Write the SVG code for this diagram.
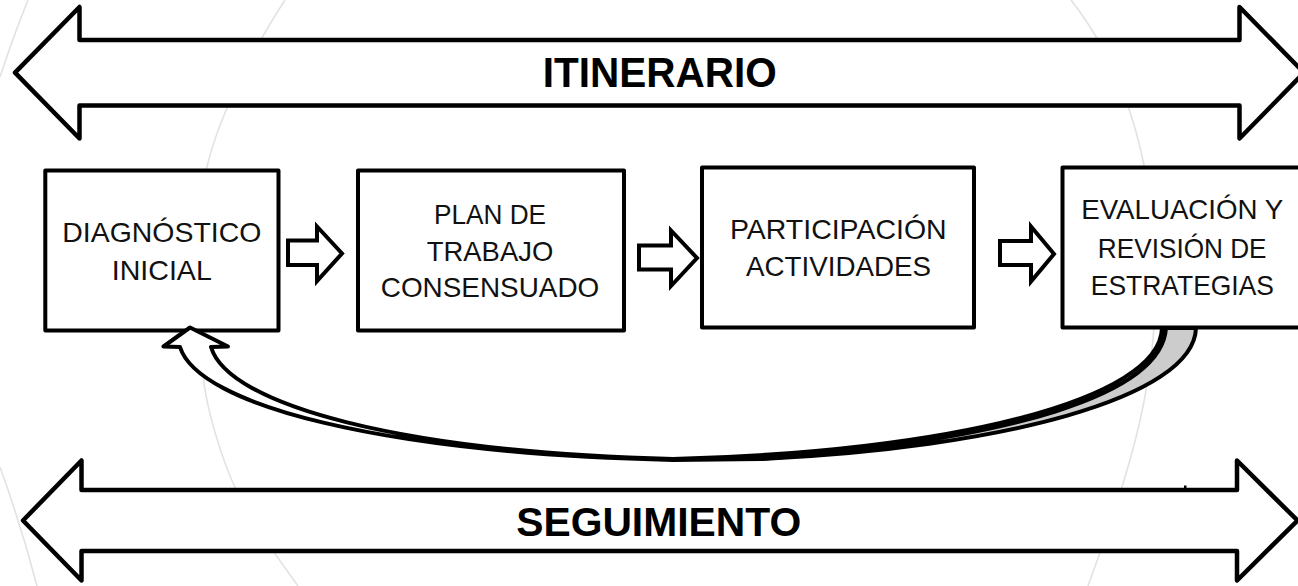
<svg xmlns="http://www.w3.org/2000/svg" width="1298" height="586" viewBox="0 0 1298 586">
  <style>
    .bg { fill: none; stroke: #e2e2e2; stroke-width: 1.6; }
    .band { fill: #ffffff; stroke: #000000; stroke-width: 4.5; stroke-linejoin: round; }
    .box { fill: #ffffff; stroke: #000000; stroke-width: 4; stroke-linejoin: round; }
    .blk { fill: #ffffff; stroke: #000000; stroke-width: 4; stroke-linejoin: miter; stroke-miterlimit: 10; }
    .rib { fill: #ffffff; stroke: #000000; stroke-width: 4; stroke-linejoin: round; }
    .ribback { fill: #cccccc; stroke: #000000; stroke-width: 4; stroke-linejoin: round; }
    .title { font-family: "Liberation Sans", Arial, sans-serif; font-weight: bold; fill: #000000; text-anchor: middle; }
    .lbl { font-family: "Liberation Sans", Arial, sans-serif; font-size: 27.5px; fill: #111111; text-anchor: middle; }
  </style>
  <rect width="1298" height="586" fill="#ffffff"/>
  <g id="background">
    <path class="bg" d="M28,0 Q12,40 0,77"/>
    <path class="bg" d="M0,467 Q22,528 37,586"/>
    <path class="bg" d="M285,0 C262,35 220,110 207,167 C196,215 200,330 203,374 C206,410 225,470 240,497 C258,533 280,560 298,586"/>
    <path class="bg" d="M1071,0 C1110,50 1150,130 1155,260 C1160,380 1130,470 1088,586"/>
  </g>
  <g id="itinerario">
    <path class="band" d="M15,72.7 L79.5,7 V40 H1239.5 V7 L1304,72.7 L1239.5,138.5 V105.5 H79.5 V138.5 Z"/>
    <text class="title" x="659.7" y="86.7" font-size="42" textLength="234" lengthAdjust="spacingAndGlyphs">ITINERARIO</text>
  </g>
  <g id="seguimiento">
    <path class="band" d="M23,520.5 L81.5,460.5 V490 H1237 V460.5 L1297.5,520.5 L1237,580.5 V551 H81.5 V580.5 Z"/>
    <text class="title" x="658.7" y="535.5" font-size="40" textLength="285" lengthAdjust="spacingAndGlyphs">SEGUIMIENTO</text>
    <rect x="1184" y="485.5" width="2.5" height="2.5" fill="#000000"/>
  </g>
  <g id="diagnostico">
    <rect class="box" x="45.3" y="170.5" width="233.2" height="160"/>
    <text class="lbl" x="161.8" y="242.2" textLength="199" lengthAdjust="spacingAndGlyphs">DIAGNÓSTICO</text>
    <text class="lbl" x="161.8" y="280.3" textLength="100" lengthAdjust="spacingAndGlyphs">INICIAL</text>
  </g>
  <g id="plan">
    <rect class="box" x="358" y="170.5" width="266" height="160"/>
    <text class="lbl" x="490" y="223.5" textLength="112" lengthAdjust="spacingAndGlyphs">PLAN DE</text>
    <text class="lbl" x="490" y="260.5" textLength="126.5" lengthAdjust="spacingAndGlyphs">TRABAJO</text>
    <text class="lbl" x="490" y="297" textLength="218.5" lengthAdjust="spacingAndGlyphs">CONSENSUADO</text>
  </g>
  <g id="participacion">
    <rect class="box" x="702" y="167.5" width="272" height="160"/>
    <text class="lbl" x="838.3" y="239.2" textLength="216.8" lengthAdjust="spacingAndGlyphs">PARTICIPACIÓN</text>
    <text class="lbl" x="838.5" y="275.8" textLength="185" lengthAdjust="spacingAndGlyphs">ACTIVIDADES</text>
  </g>
  <g id="connectors">
    <path class="blk" d="M288,240.5 H317 V226.5 L342,253.5 L317,281 V265 H288 Z"/>
    <path class="blk" d="M639,245.5 H671 V230.5 L697,258 L671,286 V269.5 H639 Z"/>
    <path class="blk" d="M1000,241 H1031 V226.5 L1054,254 L1031,281.5 V265 H1000 Z"/>
    <path class="rib" d="M180,347 C198,405 380,453 673,460 L760,459 C1010,440 1162,395 1166,328 L1162,328 C1160,400 950,452 673,459 C400,452 228,405 211,347 L228,346.5 L190,327.5 L163.5,346.5 Z"/>
    <path class="ribback" d="M1166,328 C1162,395 1010,440 760,459 C1000,448 1194,398 1196,328 Z"/>
  </g>
  <g id="evaluacion">
    <rect class="box" x="1062.5" y="167.5" width="240" height="160"/>
    <text class="lbl" x="1182.2" y="218.6" textLength="202" lengthAdjust="spacingAndGlyphs">EVALUACIÓN Y</text>
    <text class="lbl" x="1182.2" y="257.8" textLength="168.8" lengthAdjust="spacingAndGlyphs">REVISIÓN DE</text>
    <text class="lbl" x="1182.4" y="294.5" textLength="183.2" lengthAdjust="spacingAndGlyphs">ESTRATEGIAS</text>
  </g>
</svg>
